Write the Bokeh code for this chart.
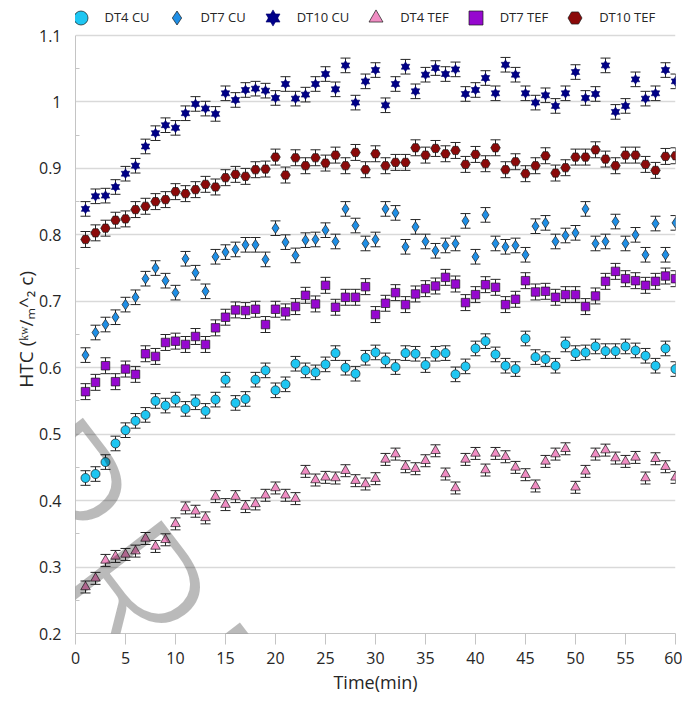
import math
from bokeh.plotting import figure
from bokeh.models import (ColumnDataSource, Range1d, FixedTicker, Whisker, TeeHead,
                          Legend, LegendItem, Label, CustomJSTickFormatter)
from bokeh.embed import file_html
from bokeh.resources import INLINE

# ---------------- data ----------------
time_min = list(range(1, 61))

dt4_cu = [0.434, 0.440, 0.458, 0.486, 0.506, 0.520, 0.529, 0.550, 0.543, 0.552,
          0.538, 0.548, 0.535, 0.552, 0.582, 0.547, 0.553, 0.582, 0.596, 0.566,
          0.575, 0.606, 0.596, 0.593, 0.605, 0.622, 0.600, 0.591, 0.615, 0.623,
          0.611, 0.601, 0.622, 0.621, 0.604, 0.621, 0.622, 0.590, 0.602, 0.629,
          0.640, 0.620, 0.603, 0.598, 0.644, 0.616, 0.613, 0.603, 0.635, 0.622,
          0.623, 0.632, 0.625, 0.625, 0.632, 0.626, 0.618, 0.603, 0.629, 0.598]

dt7_cu = [0.619, 0.653, 0.665, 0.676, 0.695, 0.706, 0.734, 0.750, 0.731, 0.713,
          0.764, 0.743, 0.715, 0.767, 0.774, 0.778, 0.785, 0.785, 0.763, 0.810,
          0.789, 0.769, 0.792, 0.793, 0.807, 0.790, 0.839, 0.814, 0.787, 0.793,
          0.839, 0.833, 0.782, 0.812, 0.790, 0.776, 0.784, 0.787, 0.821, 0.767,
          0.830, 0.787, 0.782, 0.784, 0.770, 0.813, 0.818, 0.790, 0.799, 0.803,
          0.839, 0.787, 0.790, 0.820, 0.787, 0.800, 0.770, 0.817, 0.770, 0.818]

dt10_cu = [0.839, 0.858, 0.859, 0.872, 0.892, 0.904, 0.933, 0.953, 0.965, 0.961,
           0.983, 0.997, 0.990, 0.982, 1.013, 1.003, 1.018, 1.020, 1.017, 1.006,
           1.027, 1.005, 1.011, 1.027, 1.042, 1.019, 1.055, 0.999, 1.031, 1.048,
           0.995, 1.027, 1.053, 1.016, 1.041, 1.051, 1.042, 1.049, 1.012, 1.018,
           1.036, 1.013, 1.056, 1.041, 1.013, 0.999, 1.010, 0.994, 1.013, 1.045,
           1.006, 1.012, 1.055, 0.985, 0.994, 1.034, 1.005, 1.013, 1.048, 1.031]

dt4_tef = [0.270, 0.283, 0.310, 0.316, 0.319, 0.324, 0.343, 0.331, 0.341, 0.365,
           0.389, 0.384, 0.374, 0.406, 0.394, 0.406, 0.391, 0.395, 0.408, 0.419,
           0.408, 0.403, 0.444, 0.431, 0.435, 0.434, 0.445, 0.430, 0.425, 0.433,
           0.462, 0.470, 0.451, 0.448, 0.460, 0.475, 0.440, 0.419, 0.462, 0.471,
           0.446, 0.471, 0.466, 0.450, 0.439, 0.422, 0.459, 0.470, 0.478, 0.420,
           0.444, 0.470, 0.476, 0.464, 0.459, 0.465, 0.434, 0.463, 0.451, 0.435]

dt7_tef = [0.564, 0.578, 0.603, 0.579, 0.598, 0.590, 0.621, 0.617, 0.638, 0.640,
           0.635, 0.647, 0.635, 0.660, 0.676, 0.687, 0.686, 0.688, 0.665, 0.688,
           0.684, 0.692, 0.709, 0.696, 0.724, 0.691, 0.706, 0.706, 0.722, 0.680,
           0.697, 0.713, 0.695, 0.711, 0.719, 0.723, 0.736, 0.726, 0.698, 0.710,
           0.725, 0.721, 0.695, 0.703, 0.731, 0.714, 0.715, 0.706, 0.710, 0.710,
           0.692, 0.708, 0.730, 0.745, 0.734, 0.731, 0.724, 0.730, 0.738, 0.734]

dt10_tef = [0.793, 0.803, 0.810, 0.822, 0.824, 0.838, 0.843, 0.850, 0.853, 0.865,
            0.862, 0.868, 0.876, 0.872, 0.886, 0.891, 0.888, 0.898, 0.899, 0.917,
            0.890, 0.916, 0.904, 0.916, 0.908, 0.920, 0.904, 0.924, 0.898, 0.922,
            0.904, 0.909, 0.909, 0.931, 0.920, 0.930, 0.922, 0.927, 0.906, 0.921,
            0.907, 0.931, 0.898, 0.910, 0.892, 0.904, 0.919, 0.893, 0.901, 0.917,
            0.917, 0.928, 0.914, 0.904, 0.920, 0.920, 0.906, 0.897, 0.918, 0.919]

# error-bar half heights
err_dt4_cu = 0.011
err_dt7_cu = 0.011
err_dt10_cu = 0.011
err_dt4_tef = 0.009
err_dt7_tef = 0.012
err_dt10_tef = 0.012

series_names = ["DT4 CU", "DT7 CU", "DT10 CU", "DT4 TEF", "DT7 TEF", "DT10 TEF"]

x_ticks = [0, 5, 10, 15, 20, 25, 30, 35, 40, 45, 50, 55, 60]
y_ticks = [0.2, 0.3, 0.4, 0.5, 0.6, 0.7, 0.8, 0.9, 1.0, 1.1]
y_minor = [0.25, 0.35, 0.45, 0.55, 0.65, 0.75, 0.85, 0.95, 1.05]

# watermark letters (partially visible, grey, rotated)
wm_letters = ["O", "R", "R", "E"]

# ---------------- figure ----------------
FONT = "Open Sans"
TXT = "#262626"
W, H = 682, 702
BORDER_L, BORDER_R, BORDER_B = 75, 7, 69
FRAME_H = H - BORDER_B                     # 633
PX_PER_UNIT = 598.0 / 0.9                  # y pixels per 1.0 HTC
y_top = 1.1 + 35.0 / PX_PER_UNIT           # room above 1.1 for the legend row

p = figure(width=W, height=H, output_backend="svg", toolbar_location=None,
           x_range=Range1d(0, 60), y_range=Range1d(0.2, y_top),
           min_border_left=BORDER_L, min_border_right=BORDER_R,
           min_border_top=0, min_border_bottom=BORDER_B)
p.outline_line_color = None
p.background_fill_color = "white"
p.border_fill_color = "white"

p.xgrid.visible = False
p.ygrid.grid_line_color = "#d9d9d9"
p.ygrid.grid_line_width = 1.5

p.xaxis.ticker = FixedTicker(ticks=x_ticks)
p.yaxis.ticker = FixedTicker(ticks=y_ticks, minor_ticks=y_minor)
p.yaxis.bounds = (0.2, 1.1)
p.yaxis.formatter = CustomJSTickFormatter(code="return (Math.round(tick*10)/10).toString();")

for ax in (p.xaxis[0], p.yaxis[0]):
    ax.axis_line_color = "#c4c4c4"
    ax.axis_line_width = 1
    ax.major_label_text_font = FONT
    ax.major_label_text_font_size = "16px"
    ax.major_label_text_color = TXT
    ax.axis_label_text_font = FONT
    ax.axis_label_text_font_style = "normal"
    ax.axis_label_text_color = TXT

p.xaxis.major_tick_out = 11
p.xaxis.major_tick_in = 0
p.xaxis.major_tick_line_color = "#c4c4c4"
p.xaxis.minor_tick_line_color = None
p.xaxis.major_label_standoff = 7
p.xaxis.axis_label = "Time(min)"
p.xaxis.axis_label_text_font_size = "18px"
p.xaxis.axis_label_standoff = 3

p.yaxis.major_tick_out = 0
p.yaxis.major_tick_in = 0
p.yaxis.minor_tick_in = 4
p.yaxis.minor_tick_out = 0
p.yaxis.minor_tick_line_color = "#c4c4c4"
p.yaxis.major_label_standoff = 14
p.yaxis.axis_label = "HTC (ᵏʷ/ₘ^₂ c)" + "\u00a0" * 5
p.yaxis.axis_label_text_font_size = "19px"
p.yaxis.axis_label_standoff = -3

# ---------------- series ----------------
EDGE = "#1a1a1a"
BAR = "#262626"


def add_errorbars(src):
    w = Whisker(base="x", upper="hi", lower="lo", source=src,
                line_color=BAR, line_width=1,
                upper_head=TeeHead(size=10, line_color=BAR, line_width=1),
                lower_head=TeeHead(size=10, line_color=BAR, line_width=1))
    p.add_layout(w)


def make_src(vals, err):
    return ColumnDataSource(dict(x=time_min, y=vals,
                                 lo=[v - err for v in vals],
                                 hi=[v + err for v in vals]))


legend_items = []

s = make_src(dt4_cu, err_dt4_cu); add_errorbars(s)
r = p.scatter("x", "y", source=s, marker="circle", size=9,
              fill_color="#1EC6F2", line_color=EDGE, line_width=0.7)
legend_items.append(LegendItem(label=series_names[0], renderers=[r]))

s = make_src(dt7_cu, err_dt7_cu); add_errorbars(s)
r = p.scatter("x", "y", source=s, marker="diamond", size=10.5,
              fill_color="#1F8FE6", line_color=EDGE, line_width=0.7)
legend_items.append(LegendItem(label=series_names[1], renderers=[r]))

s = make_src(dt10_cu, err_dt10_cu); add_errorbars(s)
r1 = p.scatter("x", "y", source=s, marker="triangle", size=8.5,
               fill_color="#00008B", line_color="#00006A", line_width=0.6)
r2 = p.scatter("x", "y", source=s, marker="inverted_triangle", size=8.5,
               fill_color="#00008B", line_color="#00006A", line_width=0.6)
legend_items.append(LegendItem(label=series_names[2], renderers=[r1, r2]))

s = make_src(dt4_tef, err_dt4_tef); add_errorbars(s)
r = p.scatter("x", "y", source=s, marker="triangle", size=9.5,
              fill_color="#F08DC3", line_color=EDGE, line_width=0.7)
legend_items.append(LegendItem(label=series_names[3], renderers=[r]))

s = make_src(dt7_tef, err_dt7_tef); add_errorbars(s)
r = p.scatter("x", "y", source=s, marker="square", size=8.5,
              fill_color="#9608CF", line_color=EDGE, line_width=0.7)
legend_items.append(LegendItem(label=series_names[4], renderers=[r]))

s = make_src(dt10_tef, err_dt10_tef); add_errorbars(s)
r = p.scatter("x", "y", source=s, marker="hex", size=9.5,
              fill_color="#8B0A0A", line_color=EDGE, line_width=0.7)
legend_items.append(LegendItem(label=series_names[5], renderers=[r]))

# legend row sits above the 1.1 gridline, markers centred ~17px from the top
legend = Legend(items=legend_items, orientation="horizontal",
                location=(-12.5, FRAME_H - 34.5),
                glyph_width=35, glyph_height=35, label_standoff=7, spacing=9,
                padding=0, margin=0, border_line_alpha=0,
                background_fill_alpha=0,
                label_text_font=FONT, label_text_font_size="13px",
                label_text_color=TXT)
p.add_layout(legend)

# ---------------- watermark ----------------
WM_ANGLE = -52.5
ang = math.radians(WM_ANGLE)
dx, dy = math.cos(ang), -math.sin(ang)          # baseline direction (screen, y down)
ux, uy = -dy, dx                                 # letter "up" direction... (screen)
ux, uy = math.sin(-ang) * 0 + 0.793, -0.609      # up-right
r_origin = (-55.6 + 71.0, 496.0 - 55.0)          # screen px of first "R" anchor
advances = [-164.0, 0.0, 129.0, 258.0]           # offsets along baseline per letter


def to_data(px, py):
    return (px - BORDER_L) / 10.0, 0.2 + (FRAME_H - py) / PX_PER_UNIT


for ch, a in zip(wm_letters, advances):
    sx = r_origin[0] + a * dx
    sy = r_origin[1] + a * dy
    xd, yd = to_data(sx, sy)
    p.add_layout(Label(x=xd, y=yd, x_units="data", y_units="data",
                       text=ch, angle=WM_ANGLE, angle_units="deg",
                       text_font="Lato Light, Lato, sans-serif", text_font_size="210px",
                       text_color="black", text_alpha=0.27,
                       text_align="left", text_baseline="alphabetic", level="overlay"))

open("out.html", "w").write(file_html(p, INLINE))
